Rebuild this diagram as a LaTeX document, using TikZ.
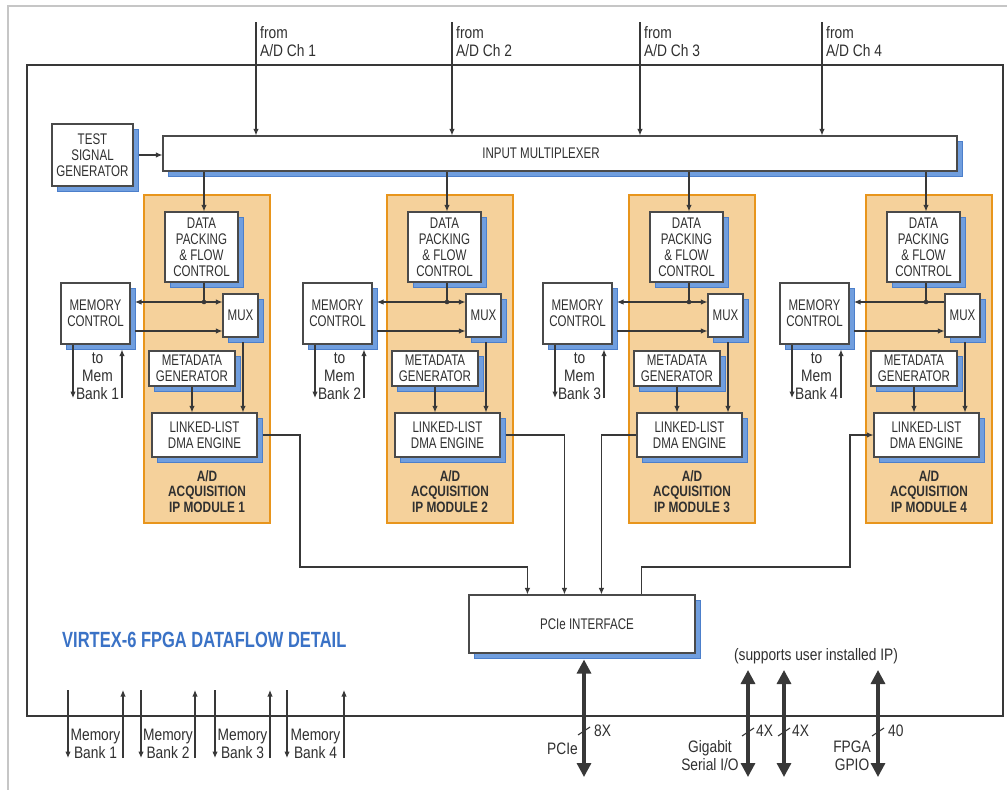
\documentclass[tikz,border=0pt]{standalone}
\usepackage{fontspec}
\setmainfont{Liberation Sans}[FakeStretch=0.83]
\newfontfamily\boxfont{Liberation Sans}[FakeStretch=0.75]
\newfontfamily\modfont{Liberation Sans}[FakeStretch=0.79]
\newfontfamily\titlefont{Liberation Sans}[FakeStretch=0.75]
\usetikzlibrary{arrows.meta,shadows,calc}
\definecolor{linegray}{HTML}{383838}
\definecolor{boxedge}{HTML}{4A4A4A}
\definecolor{modfill}{HTML}{F5D19B}
\definecolor{modedge}{HTML}{E8951C}
\definecolor{shfill}{HTML}{709EDE}
\definecolor{shedge}{HTML}{4C7FCB}
\definecolor{titleblue}{HTML}{3A72C6}
\definecolor{framegray}{HTML}{C6C6C6}
\definecolor{txt}{HTML}{303030}
\begin{document}
\begin{tikzpicture}[x=1pt,y=-1pt,
  ln/.style={draw=linegray,line width=1.1pt},
  arr/.style={-{Latex[length=6.5pt,width=5.5pt]}},
  darr/.style={{Latex[length=6.5pt,width=5.5pt]}-{Latex[length=6.5pt,width=5.5pt]}},
  bigarr/.style={draw=linegray,line width=3.2pt,{Triangle[length=14pt,width=14pt]}-{Triangle[length=14pt,width=14pt]}},
  blk/.style={draw=boxedge,line width=1.1pt,fill=white,inner sep=0pt,align=center,text=txt,
    font=\boxfont\fontsize{15.4}{16}\selectfont,
    drop shadow={shadow xshift=5pt,shadow yshift=-5pt,fill=shfill,draw=shedge,line width=0.8pt,opacity=1}},
  modbox/.style={draw=modedge,fill=modfill,line width=1.6pt,inner sep=0pt,minimum width=126pt,minimum height=328pt},
  modlabel/.style={align=center,text=txt,font=\modfont\bfseries\fontsize{15}{15.3}\selectfont,inner sep=0pt},
  lbl/.style={align=center,text=txt,font=\fontsize{16.6}{18}\selectfont,inner sep=0pt},
]
\useasboundingbox (0,0) rectangle (1007,790);
\fill[white] (0,0) rectangle (1007,790);
\draw[framegray,line width=1.5pt] (8,790) -- (8,6) -- (1007,6);
\node[draw=linegray,line width=2pt,minimum width=976pt,minimum height=651pt,inner sep=0pt] (fpga) at (515,390.5) {};
\node[anchor=west,text=titleblue,inner sep=0pt,font=\titlefont\bfseries\fontsize{22}{24}\selectfont] (title) at (62,640) {VIRTEX-6 FPGA DATAFLOW DETAIL};

% input multiplexer and test generator
\node[blk,minimum width=794pt,minimum height=35pt] (inmux) at (560,153.5) {\hspace*{-38pt}INPUT MULTIPLEXER};
\node[blk,minimum width=81pt,minimum height=62pt] (tsg) at (92.5,155) {TEST\\SIGNAL\\GENERATOR};
\draw[ln,arr] ([xshift=5pt]tsg.east) -- (inmux.west |- tsg.east);

\foreach \x/\n in {256/1,452/2,640/3,822/4}{
  \coordinate (src\n) at (\x,22);
  \draw[ln,arr] (src\n) -- (src\n |- inmux.north);
  \node[lbl,anchor=west,align=left] (from\n) at (\x+4,42) {from\\A/D Ch \n};
}

% modules
\foreach \ML/\MC/\n in {144/61/1,387/303/2,629/543/3,866/780/4}{
  \node[modbox] (mod\n) at (\ML+63,359) {};
  \node[modlabel] (lab\n) at (\ML+63,491.5) {A/D\\ACQUISITION\\IP MODULE \n};
  \node[blk,minimum width=73pt,minimum height=70pt] (dp\n) at (\ML+57.5,247) {DATA\\PACKING\\\& FLOW\\CONTROL};
  \node[blk,minimum width=35pt,minimum height=43pt] (mux\n) at (\ML+96.5,315.5) {MUX};
  \node[blk,minimum width=69pt,minimum height=61pt] (mem\n) at (\MC+34.5,313.5) {MEMORY\\CONTROL};
  \node[blk,minimum width=86pt,minimum height=35pt] (meta\n) at (\ML+48,368.5) {METADATA\\GENERATOR};
  \node[blk,minimum width=105pt,minimum height=44pt] (dma\n) at (\ML+60.5,435) {LINKED-LIST\\DMA ENGINE};
  \coordinate (in\n) at (\ML+60,0);
  \draw[ln,arr] (in\n |- inmux.south) -- (in\n |- dp\n.north);
  \coordinate (j\n) at (\ML+60,302);
  \coordinate (mt\n) at (\MC+74,302);
  \coordinate (mb\n) at (\MC+74,331);
  \draw[ln] (j\n |- dp\n.south) -- (j\n);
  \ifnum\n=4
    \draw[ln,arr] (mux\n.west |- j\n) -- (mt\n);
  \else
    \draw[ln,darr] (mt\n) -- (mux\n.west |- j\n);
  \fi
  \fill[linegray] (j\n) circle (2.3pt);
  \draw[ln,arr] (mb\n) -- (mux\n.west |- mb\n);
  \coordinate (md\n) at (\ML+99,342);
  \draw[ln,arr] (md\n) -- (md\n |- dma\n.north);
  \draw[ln,arr] (meta\n.south) -- (meta\n.south |- dma\n.north);
  \coordinate (bo\n) at (\MC+12,398);
  \coordinate (bi\n) at (\MC+61,398);
  \draw[ln,arr] (bo\n |- mem\n.south) -- (bo\n);
  \draw[ln,arr] (bi\n) -- ($(bi\n |- mem\n.south)+(0,5)$);
  \node[lbl] (tm\n) at (\MC+36.5,376) {to\\Mem\\Bank \n};
}

% PCIe interface
\node[blk,minimum width=226pt,minimum height=58pt] (pcie) at (582,624) {\hspace*{10pt}PCIe INTERFACE};
\draw[ln,arr] ([xshift=5pt]dma1.east) -| (300,567) -| ($(pcie.north west)+(59,0)$);
\draw[ln,arr] ([xshift=5pt]dma2.east) -| ($(pcie.north west)+(96,0)$);
\draw[ln,arr] (dma3.west) -| ($(pcie.north west)+(133,0)$);
\draw[ln,arr] ($(pcie.north west)+(173,0)$) |- (850,567) |- (dma4.west);

% memory banks at bottom
\foreach \a/\b/\n in {68/123/1,141/195/2,215/270/3,287/344/4}{
  \coordinate (mbd\n) at (\a,758);
  \coordinate (mbu\n) at (\b,690);
  \draw[ln,arr] (\a,690) -- (mbd\n);
  \draw[ln,arr] (\b,758) -- (mbu\n);
  \node[lbl] (mbl\n) at ({(\a+\b)/2},744) {Memory\\Bank \n};
}

% thick I/O arrows
\coordinate (pcieo) at (584,777);
\draw[bigarr] ($(pcieo |- pcie.south)+(0,6)$) -- (pcieo);
\coordinate (g1t) at (748,670); \coordinate (g1b) at (748,777);
\coordinate (g2t) at (784,670); \coordinate (g2b) at (784,777);
\coordinate (gpt) at (878,670); \coordinate (gpb) at (878,777);
\draw[bigarr] (g1t) -- (g1b);
\draw[bigarr] (g2t) -- (g2b);
\draw[bigarr] (gpt) -- (gpb);
\node[lbl] (sup) at (816,656) {(supports user installed IP)};

\draw[ln] (578,735) -- (590,727);
\draw[ln] (742,736) -- (754,728);
\draw[ln] (778,736) -- (790,728);
\draw[ln] (872,736) -- (884,728);
\node[lbl,anchor=west] (w8) at (594,731) {8X};
\node[lbl,anchor=west] (w4a) at (756,731) {4X};
\node[lbl,anchor=west] (w4b) at (792,731) {4X};
\node[lbl,anchor=west] (w40) at (888,731) {40};
\node[lbl,anchor=east] (pcl) at (578,749) {PCIe};
\node[lbl] (gsl) at (710,756) {Gigabit\\Serial I/O};
\node[lbl] (gpl) at (852,756) {FPGA\\GPIO};
\end{tikzpicture}
\end{document}
